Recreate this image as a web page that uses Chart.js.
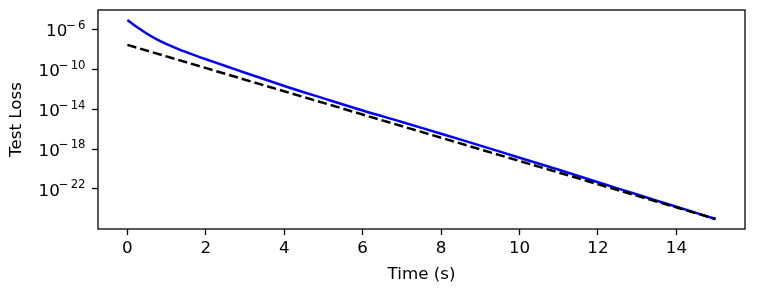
<!DOCTYPE html>
<html>
<head>
<meta charset="utf-8">
<script src="https://cdn.jsdelivr.net/npm/chart.js@4"></script>
<style>
  html, body { margin: 0; padding: 0; background: #fff; }
  #wrap { width: 767px; height: 292px; }
</style>
</head>
<body>
<div id="wrap"><canvas id="myChart" width="767" height="292"></canvas></div>
<script>
// time (s) and test loss
const times = [0, 0.25, 0.5, 0.75, 1, 1.5, 2, 2.5, 3, 4, 5, 6, 7, 8, 9, 10, 11, 12, 13, 14, 15];
const modelLoss = [9.33e-6, 1.70e-6, 3.89e-7, 1.05e-7, 3.55e-8, 5.37e-9, 1.05e-9, 2.19e-10, 4.68e-11,
    2.19e-12, 1.23e-13, 7.41e-15, 5.25e-16, 3.47e-17, 2.24e-18, 1.35e-19, 8.32e-21, 4.68e-22,
    2.69e-23, 1.58e-24, 9.33e-26];
const boundTimes = [0, 15];
const boundLoss = [2.95e-8, 9.33e-26];

const xTicks = [0, 2, 4, 6, 8, 10, 12, 14];
const yTicks = [1e-22, 1e-18, 1e-14, 1e-10, 1e-6];
const yTickBase = '10';
const yTickExps = ['22', '18', '14', '10', '6'];

const fontSize = 16.7;
const font = { family: 'DejaVu Sans', size: fontSize };

// box around the plot and the 10^-n labels with raised exponents
const frame = {
    id: 'frame',
    afterDraw(chart) {
        const a = chart.chartArea;
        const ctx = chart.ctx;
        ctx.save();
        ctx.strokeStyle = '#000';
        ctx.lineWidth = 1.3;
        ctx.strokeRect(a.left, a.top, a.right - a.left, a.bottom - a.top);

        const ys = chart.scales.y;
        const right = 85.5;
        ctx.fillStyle = '#000';
        ctx.textAlign = 'right';
        ctx.textBaseline = 'alphabetic';
        yTicks.forEach((v, i) => {
            const y = ys.getPixelForValue(v);
            ctx.font = (fontSize * 0.7) + 'px "DejaVu Sans"';
            ctx.fillText(yTickExps[i], right, y - 0.6);
            const dw = ctx.measureText(yTickExps[i]).width;
            const minusRight = right - dw - 2;
            ctx.fillText('\u2212', minusRight, y - 0.6);
            const mw = ctx.measureText('\u2212').width;
            ctx.font = fontSize + 'px "DejaVu Sans"';
            ctx.fillText(yTickBase, minusRight - mw + 1, y + 6.7);
        });
        ctx.restore();
    }
};

const ctx = document.getElementById('myChart').getContext('2d');
new Chart(ctx, {
    type: 'line',
    data: {
        datasets: [{
            data: times.map((t, i) => ({ x: t, y: modelLoss[i] })),
            borderColor: '#0000ff',
            borderWidth: 2.5,
            pointRadius: 0,
            tension: 0.4,
            order: 2
        }, {
            data: boundTimes.map((t, i) => ({ x: t, y: boundLoss[i] })),
            borderColor: '#000000',
            borderWidth: 2.5,
            borderDash: [9.25, 4],
            pointRadius: 0,
            order: 1
        }]
    },
    options: {
        responsive: false,
        animation: false,
        devicePixelRatio: 1,
        layout: { padding: { top: 10, right: 22, left: 0, bottom: 0 } },
        plugins: { legend: { display: false }, tooltip: { enabled: false } },
        scales: {
            x: {
                type: 'linear',
                min: -0.75,
                max: 15.75,
                afterBuildTicks: s => { s.ticks = xTicks.map(v => ({ value: v })); },
                afterFit: s => { s.height = 63; },
                grid: { drawOnChartArea: false, drawTicks: true, tickLength: 6, tickWidth: 1.3, color: '#000' },
                border: { display: false },
                ticks: { color: '#000', font: font, padding: 4, maxRotation: 0 },
                title: { display: true, text: 'Time (s)', color: '#000', font: font, padding: { top: 0, bottom: 7 } }
            },
            y: {
                type: 'logarithmic',
                min: 9.33e-27,
                max: 9.33e-5,
                afterBuildTicks: s => { s.ticks = yTicks.map(v => ({ value: v })); },
                afterFit: s => { s.width = 98; },
                grid: { drawOnChartArea: false, drawTicks: true, tickLength: 6, tickWidth: 1.3, color: '#000' },
                border: { display: false },
                ticks: { display: false },
                title: { display: true, text: 'Test Loss', color: '#000', font: font, padding: { top: 6.5, bottom: 0 } }
            }
        }
    },
    plugins: [frame]
});
</script>
</body>
</html>
